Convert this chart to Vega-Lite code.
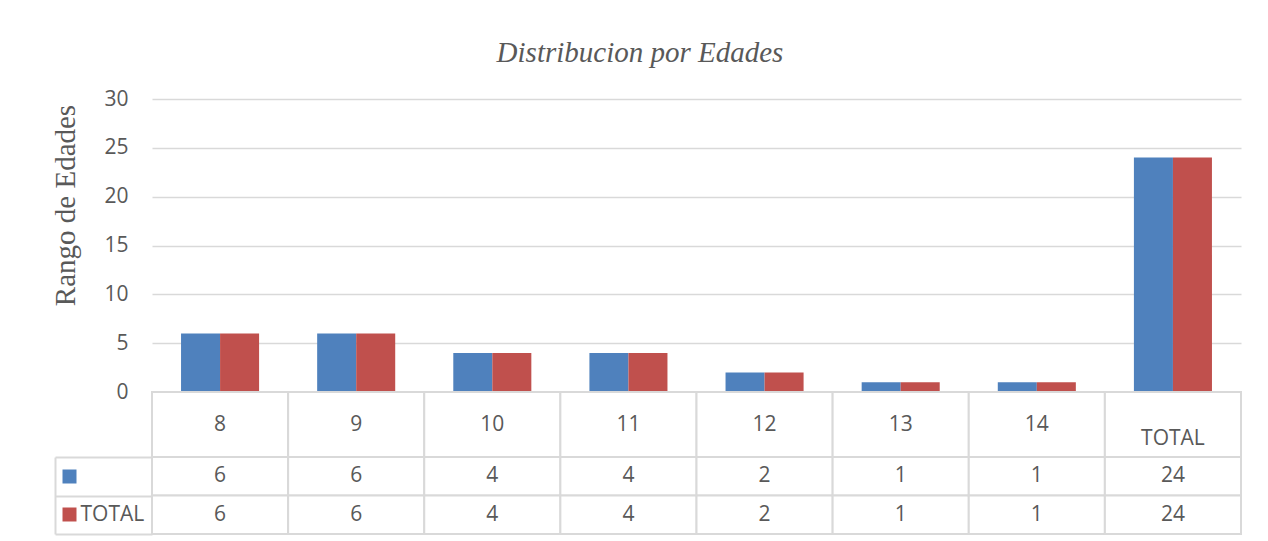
{
  "$schema": "https://vega.github.io/schema/vega-lite/v6.json",
  "background": "white",
  "padding": {"left": 51, "top": 39, "right": 10, "bottom": 5},
  "bounds": "flush",
  "title": {"text": "Distribucion por Edades", "font": "Liberation Serif", "fontStyle": "italic", "fontWeight": "normal", "fontSize": 29, "color": "#595959", "anchor": "middle", "offset": 20, "dx": -7},
  "datasets": {
    "tabla": [
      {"edad": "8", "serie": "Serie1", "valor": 6},
      {"edad": "8", "serie": "TOTAL", "valor": 6},
      {"edad": "9", "serie": "Serie1", "valor": 6},
      {"edad": "9", "serie": "TOTAL", "valor": 6},
      {"edad": "10", "serie": "Serie1", "valor": 4},
      {"edad": "10", "serie": "TOTAL", "valor": 4},
      {"edad": "11", "serie": "Serie1", "valor": 4},
      {"edad": "11", "serie": "TOTAL", "valor": 4},
      {"edad": "12", "serie": "Serie1", "valor": 2},
      {"edad": "12", "serie": "TOTAL", "valor": 2},
      {"edad": "13", "serie": "Serie1", "valor": 1},
      {"edad": "13", "serie": "TOTAL", "valor": 1},
      {"edad": "14", "serie": "Serie1", "valor": 1},
      {"edad": "14", "serie": "TOTAL", "valor": 1},
      {"edad": "TOTAL", "serie": "Serie1", "valor": 24},
      {"edad": "TOTAL", "serie": "TOTAL", "valor": 24}
    ]
  },
  "data": {"name": "tabla"},
  "spacing": 0,
  "vconcat": [
    {
      "width": 1089,
      "height": 293,
      "mark": {"type": "bar"},
      "encoding": {
        "x": {"field": "edad", "type": "nominal", "sort": ["8", "9", "10", "11", "12", "13", "14", "TOTAL"], "scale": {"paddingInner": 0, "paddingOuter": 0}, "axis": null},
        "xOffset": {"field": "serie", "type": "nominal", "sort": ["Serie1", "TOTAL"], "scale": {"paddingInner": 0, "paddingOuter": 0.744}},
        "y": {
          "field": "valor", "type": "quantitative",
          "scale": {"domain": [0, 30]},
          "axis": {
            "values": [0, 5, 10, 15, 20, 25, 30],
            "title": "Rango de Edades",
            "titleFont": "Liberation Serif", "titleFontSize": 29, "titleFontWeight": "normal", "titleColor": "#595959", "titlePadding": 23, "titleY": 106,
            "labelFont": "Open Sans", "labelFontSize": 21, "labelColor": "#595959", "labelPadding": 24,
            "ticks": false, "domain": false, "gridColor": "#D9D9D9", "gridWidth": 1.5
          }
        },
        "color": {"field": "serie", "type": "nominal", "scale": {"domain": ["Serie1", "TOTAL"], "range": ["#4F81BD", "#C0504D"]}, "legend": null}
      }
    },
    {
      "width": 1089,
      "height": 65,
      "transform": [{"filter": "datum.serie == 'TOTAL'"}],
      "encoding": {
        "x": {"field": "edad", "type": "nominal", "sort": ["8", "9", "10", "11", "12", "13", "14", "TOTAL"], "scale": {"paddingInner": 0, "paddingOuter": 0}, "axis": null}
      },
      "layer": [
        {"mark": {"type": "rect", "fill": "white", "stroke": "#D9D9D9", "strokeWidth": 2}},
        {
          "transform": [{"filter": "datum.edad != 'TOTAL'"}],
          "mark": {"type": "text", "font": "Open Sans", "fontSize": 21, "color": "#595959"},
          "encoding": {"text": {"field": "edad"}}
        },
        {
          "transform": [{"filter": "datum.edad == 'TOTAL'"}],
          "mark": {"type": "text", "font": "Open Sans", "fontSize": 21, "color": "#595959", "dy": 14},
          "encoding": {"text": {"field": "edad"}}
        }
      ]
    },
    {
      "width": 1089,
      "height": 77,
      "encoding": {
        "x": {"field": "edad", "type": "nominal", "sort": ["8", "9", "10", "11", "12", "13", "14", "TOTAL"], "scale": {"paddingInner": 0, "paddingOuter": 0}, "axis": null}
      },
      "layer": [
        {
          "mark": {"type": "rect", "fill": "white", "stroke": "#D9D9D9", "strokeWidth": 2},
          "encoding": {
            "y": {
              "field": "serie", "type": "nominal", "sort": ["Serie1", "TOTAL"],
              "scale": {"paddingInner": 0, "paddingOuter": 0},
              "axis": {
                "orient": "left", "title": null, "domain": false, "grid": false,
                "tickBand": "extent", "tickSize": 97, "tickColor": "#D9D9D9", "tickWidth": 2,
                "labelExpr": "datum.value == 'TOTAL' ? 'TOTAL' : ''",
                "labelAlign": "left", "labelPadding": -25,
                "labelFont": "Open Sans", "labelFontSize": 21, "labelColor": "#595959"
              }
            }
          }
        },
        {
          "mark": {"type": "text", "font": "Open Sans", "fontSize": 21, "color": "#595959"},
          "encoding": {
            "text": {"field": "valor"},
            "y": {
              "field": "serie", "type": "nominal", "sort": ["Serie1", "TOTAL"],
              "axis": {
                "orient": "left", "offset": 76, "title": null, "domain": false, "grid": false, "labels": false,
                "tickBand": "center", "tickSize": 14, "tickWidth": 14, "tickCap": "butt",
                "tickColor": {"condition": {"test": "datum.value == 'TOTAL'", "value": "#C0504D"}, "value": "#4F81BD"}
              }
            }
          }
        },
        {
          "mark": {"type": "tick", "opacity": 0},
          "encoding": {
            "y": {
              "field": "serie", "type": "nominal", "sort": ["Serie1", "TOTAL"],
              "axis": {
                "orient": "left", "offset": 97, "title": null, "grid": false, "labels": false, "ticks": false,
                "domain": true, "domainColor": "#D9D9D9", "domainWidth": 2
              }
            }
          }
        }
      ],
      "resolve": {"axis": {"y": "independent"}}
    }
  ],
  "config": {"view": {"stroke": null}, "font": "Open Sans"}
}
